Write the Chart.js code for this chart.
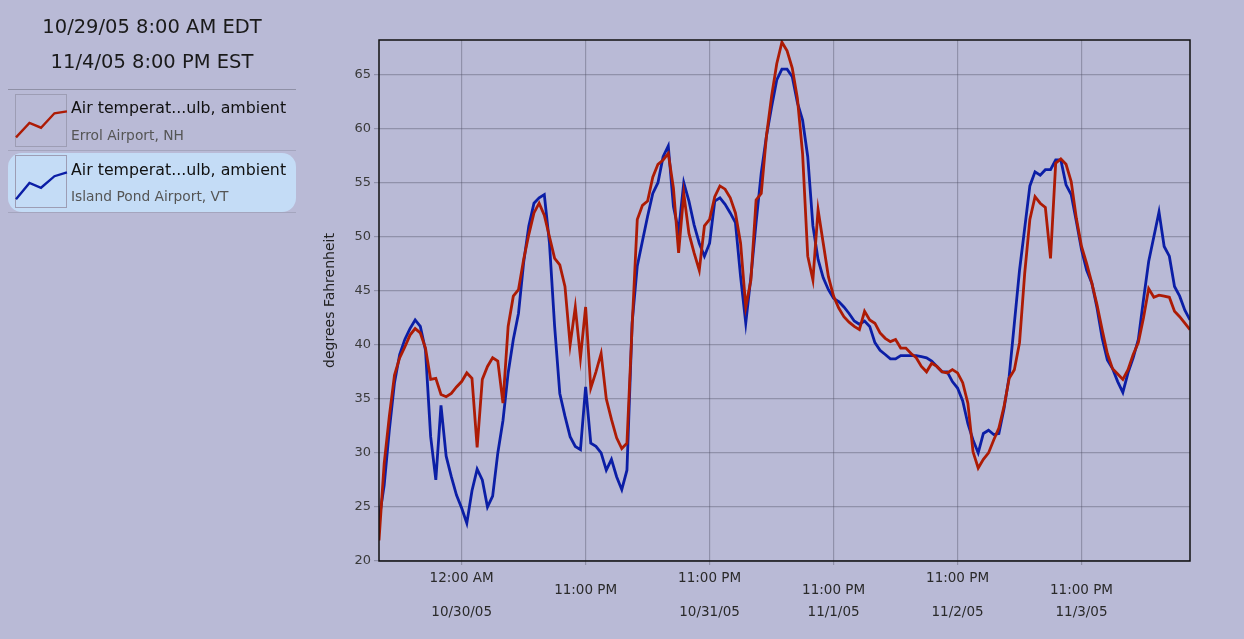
<!DOCTYPE html>
<html>
<head>
<meta charset="utf-8">
<script src="https://cdn.jsdelivr.net/npm/chart.js@4.4.0/dist/chart.umd.min.js"></script>
<style>
  html, body { margin: 0; padding: 0; background: #b9bad6; }
  #wrap { position: relative; width: 1244px; height: 639px; overflow: hidden; font-family: "DejaVu Sans", sans-serif; }
  #chart { position: absolute; left: 0; top: 0; }
  .range { position: absolute; left: 0; width: 304px; text-align: center; font-size: 19.5px; line-height: 22px; color: #1a1a1a; }
  .rule { position: absolute; left: 8px; width: 288px; height: 1px; background: #8f90a6; }
  .item { position: absolute; left: 8px; width: 288px; height: 59px; }
  .item.sel { background: #c4dcf6; border-radius: 14px; }
  .icon { position: absolute; left: 7px; width: 52px; height: 53px; border: 1px solid #9d9db4; box-sizing: border-box; overflow: visible; }
  .name { position: absolute; left: 63px; font-size: 15.8px; line-height: 18px; color: #111; white-space: nowrap; }
  .site { position: absolute; left: 63px; font-size: 13.8px; line-height: 16px; color: #555; white-space: nowrap; }
</style>
</head>
<body>
<div id="wrap">
  <canvas id="chart" width="1244" height="639"></canvas>

  <div class="range" style="top:16px">10/29/05 8:00 AM EDT</div>
  <div class="range" style="top:51px">11/4/05 8:00 PM EST</div>
  <div class="rule" style="top:89px"></div>

  <div class="item" style="top:91px">
    <svg class="icon" style="top:3px" viewBox="0 0 52 53">
      <polyline points="0,44 14,29 26,34 40,19 53,17" fill="none" stroke="#ad1b05" stroke-width="2.5"/>
    </svg>
    <div class="name" style="top:8px">Air temperat...ulb, ambient</div>
    <div class="site" style="top:36px">Errol Airport, NH</div>
  </div>
  <div class="rule" style="top:150px; opacity:0.5"></div>

  <div class="item sel" style="top:153px">
    <svg class="icon" style="top:2px" viewBox="0 0 52 53">
      <polyline points="0,45 14,28 26,33 40,21 53,17" fill="none" stroke="#0b1ea6" stroke-width="2.5"/>
    </svg>
    <div class="name" style="top:8px">Air temperat...ulb, ambient</div>
    <div class="site" style="top:35px">Island Pond Airport, VT</div>
  </div>
  <div class="rule" style="top:212px; opacity:0.5"></div>
</div>

<script>
// hourly readings starting 10/29/05 8:00 AM EDT (hour 0) through 11/4/05 8:00 PM EST (hour 157)
const errolTemps = [
  21.9, 29.0, 33.4, 37.2, 38.8, 39.8, 40.9, 41.5, 41.1, 39.7,
  36.8, 36.9, 35.4, 35.2, 35.5, 36.1, 36.6, 37.4, 36.9, 30.5,
  36.8, 38.0, 38.8, 38.5, 34.6, 41.7, 44.5, 45.1, 47.9, 50.2,
  52.2, 53.1, 52.0, 50.0, 48.0, 47.4, 45.4, 40.0, 43.5, 38.8,
  43.5, 36.0, 37.5, 39.2, 35.0, 33.1, 31.4, 30.4, 30.9, 41.7,
  51.6, 52.9, 53.3, 55.5, 56.7, 57.1, 57.7, 54.5, 48.5, 54.0,
  50.3, 48.5, 46.9, 51.0, 51.6, 53.7, 54.7, 54.4, 53.6, 52.2,
  49.4, 43.5, 46.0, 53.4, 54.0, 59.3, 63.0, 66.0, 68.0, 67.2,
  65.6, 62.8, 57.7, 48.2, 46.0, 52.5, 49.4, 46.3, 44.5, 43.4,
  42.6, 42.1, 41.7, 41.4, 43.1, 42.3, 42.0, 41.1, 40.6, 40.3,
  40.5, 39.7, 39.7, 39.2, 38.8, 38.0, 37.5, 38.3, 38.0, 37.5,
  37.4, 37.7, 37.4, 36.5, 34.6, 30.1, 28.6, 29.4, 30.0, 31.2,
  32.3, 34.3, 36.9, 37.7, 40.2, 46.6, 51.6, 53.7, 53.1, 52.7,
  48.0, 56.8, 57.2, 56.7, 55.1, 51.7, 49.1, 47.5, 45.7, 43.7,
  41.4, 39.2, 37.8, 37.3, 36.8, 37.7, 39.1, 40.2, 42.5, 45.2,
  44.4, 44.6, 44.5, 44.4, 43.1, 42.6, 42.0, 41.4
]

const islandPondTemps = [
  23.8, 27.0, 32.1, 36.5, 39.1, 40.5, 41.5, 42.3, 41.7, 39.5,
  31.5, 27.5, 34.4, 29.7, 27.8, 26.1, 24.9, 23.5, 26.5, 28.5,
  27.5, 25.0, 26.0, 30.0, 33.0, 37.4, 40.5, 42.9, 47.6, 51.0,
  53.1, 53.6, 53.9, 49.4, 41.7, 35.5, 33.4, 31.5, 30.6, 30.3,
  36.1, 30.9, 30.6, 30.0, 28.4, 29.4, 27.8, 26.6, 28.4, 42.0,
  47.3, 49.6, 51.9, 54.0, 55.0, 57.4, 58.4, 52.8, 50.5, 55.0,
  53.3, 51.1, 49.4, 48.2, 49.4, 53.3, 53.6, 53.0, 52.2, 51.3,
  46.3, 42.0, 46.3, 51.3, 55.9, 59.3, 62.0, 64.5, 65.5, 65.5,
  64.8, 62.4, 60.8, 57.4, 51.0, 47.9, 46.2, 45.1, 44.3, 44.0,
  43.5, 42.9, 42.2, 41.9, 42.2, 41.7, 40.2, 39.5, 39.1, 38.7,
  38.7, 39.0, 39.0, 39.0, 39.0, 38.9, 38.8, 38.5, 38.0, 37.5,
  37.5, 36.6, 36.0, 34.8, 32.7, 31.2, 30.0, 31.8, 32.1, 31.7,
  31.8, 34.1, 37.1, 42.0, 46.9, 50.8, 54.7, 56.0, 55.7, 56.2,
  56.2, 57.1, 57.1, 54.8, 53.9, 51.4, 48.8, 46.9, 45.7, 43.4,
  40.6, 38.6, 37.8, 36.6, 35.6, 37.4, 38.8, 40.5, 44.2, 47.7,
  50.0, 52.3, 49.1, 48.2, 45.4, 44.5, 43.2, 42.3
]

// x ticks, in hours from the start
const tickHours = [16, 40, 64, 88, 112, 136]
const tickTimesHigh = ['12:00 AM', '', '11:00 PM', '', '11:00 PM', '']
const tickTimesLow = ['', '11:00 PM', '', '11:00 PM', '', '11:00 PM']
const tickDates = ['10/30/05', '', '10/31/05', '11/1/05', '11/2/05', '11/3/05']
const yTicks = [20, 25, 30, 35, 40, 45, 50, 55, 60, 65]

const FONT = '"DejaVu Sans", sans-serif'
const GRID = 'rgba(80, 80, 100, 0.38)'

// box round the plot area
const plotBorder = {
  id: 'plotBorder',
  afterDraw(chart) {
    const { ctx, chartArea: a } = chart
    ctx.save()
    ctx.strokeStyle = '#111'
    ctx.lineWidth = 1.5
    ctx.strokeRect(a.left, a.top, a.right - a.left, a.bottom - a.top)
    ctx.restore()
  }
}

const toPoints = arr => arr.map((v, i) => ({ x: i, y: v }))

new Chart(document.getElementById('chart'), {
  type: 'line',
  data: {
    datasets: [
      {
        label: 'Errol Airport, NH',
        data: toPoints(errolTemps),
        borderColor: '#ad1b05',
        borderWidth: 2.8,
        pointRadius: 0,
        tension: 0
      },
      {
        label: 'Island Pond Airport, VT',
        data: toPoints(islandPondTemps),
        borderColor: '#0b1ea6',
        borderWidth: 2.8,
        pointRadius: 0,
        tension: 0
      }
    ]
  },
  options: {
    responsive: false,
    animation: false,
    devicePixelRatio: 1,
    layout: { padding: { left: 300, top: 40, right: 54, bottom: 0 } },
    plugins: { legend: { display: false }, tooltip: { enabled: false } },
    scales: {
      x: {
        type: 'linear',
        min: 0,
        max: 157,
        afterBuildTicks: (s) => { s.ticks = tickHours.map(v => ({ value: v })) },
        afterFit: (s) => { s.height = 78 },
        border: { display: false },
        grid: { color: GRID, lineWidth: 1.2, tickLength: 4 },
        ticks: {
          autoSkip: false,
          maxRotation: 0,
          padding: 8,
          color: '#2a2a2a',
          font: { family: FONT, size: 13.5, lineHeight: '11.4px' },
          callback: (v, i) => [tickTimesHigh[i], tickTimesLow[i], '', tickDates[i]]
        }
      },
      y: {
        min: 20,
        max: 68.2,
        afterBuildTicks: (s) => { s.ticks = yTicks.map(v => ({ value: v })) },
        afterFit: (s) => { s.width = 79 },
        border: { display: false },
        grid: { color: GRID, lineWidth: 1.2, tickLength: 5 },
        ticks: {
          padding: 3,
          color: '#3a3a3a',
          font: { family: FONT, size: 13 },
          callback: v => String(v)
        },
        title: {
          display: true,
          text: 'degrees Fahrenheit',
          color: '#222',
          font: { family: FONT, size: 14 },
          padding: { top: 22, bottom: 0 }
        }
      }
    }
  },
  plugins: [plotBorder]
})
</script>
</body>
</html>
